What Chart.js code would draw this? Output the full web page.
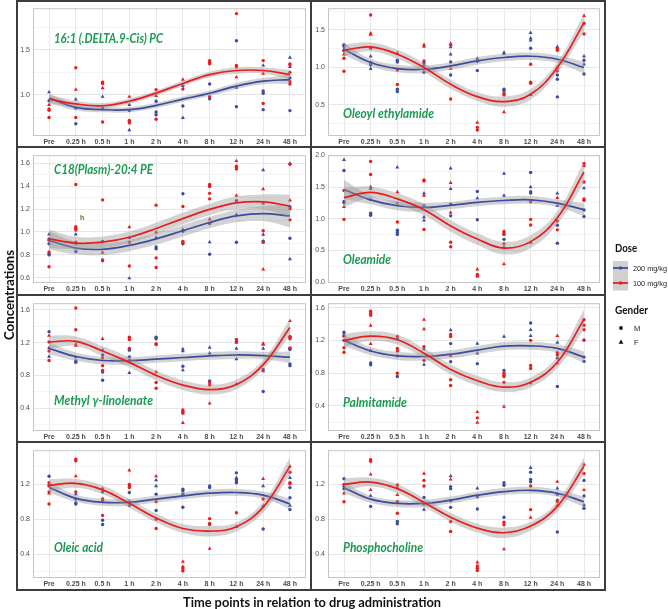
<!DOCTYPE html>
<html>
<head>
<meta charset="utf-8">
<script src="https://cdn.jsdelivr.net/npm/chart.js@4.4.1/dist/chart.umd.min.js"></script>
<style>
  body { margin: 0; background: #fff; }
  #fig { position: relative; width: 668px; height: 609px; overflow: hidden; }
  #fig canvas { position: absolute; }
  #over { position: absolute; left: 0; top: 0; pointer-events: none; }
</style>
</head>
<body>
<div id="fig"></div>
<script>
const timeLabels = ['Pre', '0.25 h', '0.5 h', '1 h', '2 h', '4 h', '8 h', '12 h', '24 h', '48 h'];
const doseLabels = ['200 mg/kg', '100 mg/kg'];
const genderLabels = ['M', 'F'];

// each list has one entry per time point: the values measured there
// 16:1 (.DELTA.9-Cis) PC
const dpc200M = [[0.935],[0.855,0.68],[0.855],[0.826],[0.93,0.81,0.78],[1.10,0.877],[1.12,0.957],[1.60,0.87],[1.043,1.018,0.837],[1.188,0.826]];
const dpc200F = [[1.03],[0.95],[0.98],[0.89,0.61],[],[0.746],[],[1.08],[1.326],[1.413,1.31]];
const dpc100M = [[0.845,0.83,0.75],[1.30,0.75],[1.14,1.127,0.70],[0.717,0.703,0.69],[1.058,0.73],[1.065],[1.38,1.36,1.345,0.98],[1.90,1.326,1.31],[1.38,0.905],[1.344,1.333,1.25,1.145,1.12]];
const dpc100F = [[0.89],[1.06],[1.076],[0.98],[0.99],[1.17],[],[1.196],[1.235],[]];
const dpcFit200 = [0.964,0.862,0.837,0.837,0.884,0.953,1.018,1.098,1.152,1.17];
const dpcFit100 = [0.953,0.90,0.88,0.93,1.02,1.127,1.225,1.27,1.27,1.225];
const dpcSe = [0.05,0.035,0.03,0.03,0.03,0.03,0.03,0.035,0.035,0.05];

// Oleoyl ethylamide
const oea200M = [[1.30,1.28,1.22],[1.063,1.03],[1.094,1.07,0.705,0.674],[1.058,0.933],[1.07,0.897],[1.08,0.955],[0.705,0.683],[1.254],[0.897,0.84,0.603],[1.094,0.91]];
const oea200F = [[1.24],[1.147,0.978],[],[1.03],[1.27,1.174],[1.116],[1.196,1.183],[1.46,1.388,1.36],[1.272],[1.147,1.04]];
const oea100M = [[1.12,0.946],[1.70,1.254],[0.964,0.77],[1.085],[0.576],[0.196,0.16],[0.647,0.63],[1.04,0.80,0.786],[1.25,1.228,0.951],[1.589,1.446]];
const oea100F = [[1.174],[1.455,1.437],[1.19],[1.30,1.277],[1.317,1.30,0.982],[0.259],[0.40],[0.63],[0.996],[1.687]];
const oeaFit200 = [1.24,1.063,0.982,0.973,1.018,1.085,1.13,1.147,1.107,0.996];
const oeaFit100 = [1.228,1.272,1.174,0.996,0.772,0.607,0.54,0.638,0.996,1.594];
const oeaSe200 = [0.08,0.05,0.05,0.05,0.05,0.05,0.05,0.05,0.05,0.08];
const oeaSe100 = [0.08,0.06,0.06,0.06,0.06,0.06,0.07,0.07,0.07,0.12];

// C18(Plasm)-20:4 PE
const pe200M = [[0.94,0.897,0.81,0.80],[0.911,0.83],[0.917,0.757],[],[0.869,0.854],[1.334,1.006,0.897],[1.397,1.074,0.806],[1.274,0.911],[0.92],[1.22,0.946]];
const pe200F = [[0.98],[0.98],[],[0.949,0.597],[0.951],[1.02],[0.911],[1.151],[1.54,1.249,0.977],[1.597,0.763]];
const pe100M = [[0.929,0.826,0.697],[1.414,1.046,1.03,1.017,0.90],[1.28,0.749],[0.911,0.703],[1.234,0.774,0.69],[1.223,0.917,0.906],[1.414,1.403,1.337,1.289],[1.574,1.563,1.549],[1.011,0.909],[1.591,1.203,1.106]];
const pe100F = [[],[],[0.82],[1.043],[0.997],[],[1.111],[1.62,1.317],[1.374,0.674],[1.277]];
const peFit200 = [0.926,0.86,0.849,0.883,0.94,1.011,1.083,1.14,1.16,1.14];
const peFit100 = [0.94,0.903,0.911,0.954,1.031,1.117,1.197,1.254,1.263,1.226];
const peSe = [0.08,0.055,0.05,0.05,0.05,0.05,0.05,0.055,0.065,0.1];

// Oleamide
const olm200M = [[1.763,1.273,1.253],[1.088,1.057],[0.82,0.784,0.753],[1.206],[1.232,1.046],[1.433,0.985],[0.753,0.675,0.541],[1.732,1.428,1.407],[0.897,0.613],[1.139,1.036]];
const olm200F = [[1.933],[1.50,1.299],[1.814,1.242],[1.402,1.026,0.974],[1.799,1.474],[1.325],[1.716,1.366],[1.50],[1.402,1.206],[1.485]];
const olm100M = [[1.448,0.99],[1.907,1.701],[0.948],[1.613,1.598,0.83],[0.629,0.557],[0.119,0.093],[0.799,0.768,0.603],[1.268,0.99,0.902],[0.964,0.825],[1.876,1.84,1.582,1.314,1.294]];
const olm100F = [[1.19],[1.474],[1.423],[1.366],[1.567,1.098],[0.201],[0.284],[0.624],[1.33],[]];
const olmFit200 = [1.464,1.299,1.206,1.18,1.211,1.258,1.289,1.299,1.247,1.144];
const olmFit100 = [1.335,1.418,1.314,1.144,0.887,0.68,0.536,0.639,1.015,1.737];
const olmSe200 = [0.15,0.07,0.07,0.07,0.06,0.06,0.06,0.06,0.06,0.1];
const olmSe100 = [0.15,0.09,0.09,0.09,0.09,0.09,0.1,0.1,0.1,0.17];

// Methyl γ-linolenate
const mgl200M = [[1.334],[0.976,0.96],[1.05,0.842,0.743],[1.109,1.027],[1.267,1.247],[0.913],[0.735],[],[0.873,0.606],[1.275,1.129,1.117,0.94,0.92]];
const mgl200F = [[1.137,1.031],[1.023],[1.109],[0.834],[],[1.121,1.098,0.865],[1.141,1.07],[1.2,1.129,1.0],[1.129],[]];
const mgl100M = [[1.208,1.098,0.983],[1.621,1.357],[1.015,0.92,0.861],[1.267,1.239,1.129,0.987],[1.188,1.176,0.716,0.645],[0.381,0.361,0.342],[0.716,0.684],[1.239,1.216],[],[1.267,1.247,1.137]];
const mgl100F = [[1.287],[1.18,1.165],[1.247],[],[0.842],[0.224],[0.46],[0.696],[1.188,1.176,0.853],[1.464]];
const mglFit200 = [1.129,1.031,0.983,0.98,1.0,1.019,1.039,1.05,1.043,1.023];
const mglFit100 = [1.208,1.216,1.098,0.96,0.802,0.684,0.629,0.692,0.932,1.385];
const mglSe200 = [0.07,0.05,0.045,0.045,0.045,0.045,0.045,0.045,0.045,0.07];
const mglSe100 = [0.08,0.06,0.06,0.06,0.06,0.06,0.06,0.06,0.06,0.1];

// Palmitamide
const plm200M = [[1.299,1.2],[0.923,0.9],[1.01,0.757],[],[1.16,0.939],[0.915],[0.832],[1.413],[0.983,0.635],[0.995,0.943]];
const plm200F = [[1.271],[1.074],[1.228],[1.093,0.904],[1.326],[1.16,1.042],[1.247],[1.33,1.255],[1.172],[1.208]];
const plm100M = [[1.251,1.109,1.054],[1.556,1.532,1.508],[1.247,1.101,1.07,0.797],[1.121,0.955],[1.271,1.247,0.718,0.647],[0.251],[0.797,0.773,0.757,0.686],[1.2,0.892,0.856],[1.05,1.022],[1.453,1.386,1.33,1.2]];
const plm100F = [[],[1.382,1.157],[],[1.453,1.338],[1.014],[0.323,0.192],[0.39],[0.678],[1.255,0.923],[]];
const plmFit200 = [1.2,1.07,1.01,1.002,1.03,1.081,1.129,1.133,1.101,0.995];
const plmFit100 = [1.2,1.251,1.208,1.042,0.844,0.706,0.627,0.686,0.931,1.457];
const plmSe200 = [0.07,0.05,0.05,0.05,0.05,0.05,0.05,0.05,0.05,0.07];
const plmSe100 = [0.08,0.06,0.06,0.06,0.06,0.06,0.06,0.06,0.07,0.12];

// Oleic acid
const ola200M = [[1.293],[1.032,0.987,0.976],[1.114,0.79,0.741],[1.107,0.957],[1.088,0.901],[1.144,1.125,1.088,0.939],[1.181,1.163,0.741],[1.331,1.256,1.237,1.219],[0.689],[1.163,1.047,0.913]];
const ola200F = [[1.2],[1.088],[],[1.002],[1.249,1.181],[],[],[1.275],[1.181,0.95],[1.275,0.957]];
const ola100M = [[1.219,1.181,1.114,0.976],[1.487,1.469,1.114],[1.032,1.013,0.845],[1.2,1.181,1.163],[1.002,0.8,0.696],[0.256,0.237,0.211],[0.808,0.752],[0.875],[1.032],[1.338,1.219,1.207]];
const ola100F = [[1.096],[1.293],[1.151],[1.36],[1.293],[0.316],[0.465],[0.715],[1.263],[1.405]];
const olaFit200 = [1.163,1.04,0.995,0.995,1.032,1.069,1.099,1.107,1.077,0.976];
const olaFit100 = [1.189,1.211,1.137,0.983,0.816,0.696,0.666,0.715,0.939,1.405];
const olaSe200 = [0.06,0.04,0.04,0.04,0.04,0.04,0.04,0.04,0.04,0.06];
const olaSe100 = [0.07,0.05,0.05,0.05,0.05,0.05,0.06,0.05,0.06,0.1];

// Phosphocholine
const phc200M = [[1.264,1.151],[0.948],[0.775,0.749],[1.05],[1.174,1.151,0.937],[1.057,0.918],[1.219,1.189,0.824],[1.339,1.256,1.23],[1.087,0.655],[1.245,1.068,0.926]];
const phc200F = [[1.181],[1.068],[1.162],[0.974,0.911],[1.294],[1.155],[],[1.388],[1.155],[0.963]];
const phc100M = [[1.2,1.001],[1.482,1.463],[1.192,1.001,0.869],[1.245,1.181],[1.012,0.775,0.662],[0.268,0.241,0.215],[0.768,0.738],[1.181,0.911],[1.02,1.001],[1.324]];
const phc100F = [[1.098],[1.313,1.136],[1.08],[1.324],[1.256],[0.309],[0.459],[0.82],[1.23,0.956],[1.426,1.136]];
const phcFit200 = [1.162,1.031,0.982,0.982,1.02,1.076,1.117,1.132,1.098,1.001];
const phcFit100 = [1.2,1.226,1.151,0.993,0.824,0.7,0.647,0.723,0.948,1.407];
const phcSe200 = [0.06,0.04,0.04,0.04,0.04,0.04,0.04,0.04,0.04,0.06];
const phcSe100 = [0.07,0.05,0.05,0.05,0.05,0.05,0.06,0.05,0.06,0.1];

const BLUE = '#3d4c9f';
const RED = '#ec1c1c';
const BAND = 'rgba(150,150,150,0.42)';
const rowTop = [0, 147, 295, 442];

const panels = [
  { title: '16:1 (.DELTA.9-Cis) PC', col: 0, row: 0, yMin: 0.545, yMax: 1.96, step: 0.5,
    pts: [dpc200M, dpc200F, dpc100M, dpc100F], fit: [dpcFit200, dpcSe, dpcFit100, dpcSe], tx: 54, ty: 38, tw: 109 },
  { title: 'Oleoyl ethylamide', col: 1, row: 0, yMin: 0.08, yMax: 1.79, step: 0.5,
    pts: [oea200M, oea200F, oea100M, oea100F], fit: [oeaFit200, oeaSe200, oeaFit100, oeaSe100], tx: 343, ty: 113, tw: 91 },
  { title: 'C18(Plasm)-20:4 PE', col: 0, row: 1, yMin: 0.555, yMax: 1.67, step: 0.2,
    pts: [pe200M, pe200F, pe100M, pe100F], fit: [peFit200, peSe, peFit100, peSe], tx: 54, ty: 169, tw: 99 },
  { title: 'Oleamide', col: 1, row: 1, yMin: -0.015, yMax: 2.005, step: 0.5,
    pts: [olm200M, olm200F, olm100M, olm100F], fit: [olmFit200, olmSe200, olmFit100, olmSe100], tx: 343, ty: 259, tw: 48 },
  { title: 'Methyl γ-linolenate', col: 0, row: 2, yMin: 0.125, yMax: 1.68, step: 0.4,
    pts: [mgl200M, mgl200F, mgl100M, mgl100F], fit: [mglFit200, mglSe200, mglFit100, mglSe100], tx: 54, ty: 400, tw: 99 },
  { title: 'Palmitamide', col: 1, row: 2, yMin: 0.09, yMax: 1.655, step: 0.4,
    pts: [plm200M, plm200F, plm100M, plm100F], fit: [plmFit200, plmSe200, plmFit100, plmSe100], tx: 343, ty: 402, tw: 64 },
  { title: 'Oleic acid', col: 0, row: 3, yMin: 0.13, yMax: 1.59, step: 0.4,
    pts: [ola200M, ola200F, ola100M, ola100F], fit: [olaFit200, olaSe200, olaFit100, olaSe100], tx: 54, ty: 547, tw: 49 },
  { title: 'Phosphocholine', col: 1, row: 3, yMin: 0.13, yMax: 1.59, step: 0.4,
    pts: [phc200M, phc200F, phc100M, phc100F], fit: [phcFit200, phcSe200, phcFit100, phcSe100], tx: 343, ty: 547, tw: 80 }
];

const fig = document.getElementById('fig');

function toPts(arr) {
  return arr.flatMap((vals, i) => vals.map(v => ({ x: i + 1, y: v })));
}
function curve(fit, se, sign) {
  return fit.map((v, i) => ({ x: i + 1, y: v + sign * se[i] }));
}
function isMajor(v, step) {
  const q = v / step;
  return Math.abs(q - Math.round(q)) < 1e-6;
}

const panelBox = {
  id: 'panelBox',
  afterDatasetsDraw(chart) {
    const a = chart.chartArea, ctx = chart.ctx;
    ctx.save();
    ctx.strokeStyle = '#c6c6c6';
    ctx.lineWidth = 1;
    ctx.strokeRect(a.left + 0.5, a.top + 0.5, a.right - a.left - 1, a.bottom - a.top - 1);
    ctx.restore();
  }
};

function makePanel(p) {
  const cv = document.createElement('canvas');
  cv.width = 292;
  cv.height = 146;
  cv.style.left = (p.col ? 312 : 18) + 'px';
  cv.style.top = (rowTop[p.row] + 1) + 'px';
  fig.appendChild(cv);

  const band = { type: 'line', pointRadius: 0, borderWidth: 0, tension: 0.4 };
  const fitLine = { type: 'line', pointRadius: 0, borderWidth: 1.7, tension: 0.4, fill: false };
  const dot = { type: 'scatter', borderWidth: 0 };

  const datasets = [
    { ...band, data: curve(p.fit[0], p.fit[1], 1), fill: '+1', backgroundColor: BAND, order: 6 },
    { ...band, data: curve(p.fit[0], p.fit[1], -1), fill: false, order: 6 },
    { ...fitLine, data: curve(p.fit[0], p.fit[1], 0), borderColor: BLUE, order: 5 },
    { ...band, data: curve(p.fit[2], p.fit[3], 1), fill: '+1', backgroundColor: BAND, order: 4 },
    { ...band, data: curve(p.fit[2], p.fit[3], -1), fill: false, order: 4 },
    { ...fitLine, data: curve(p.fit[2], p.fit[3], 0), borderColor: RED, order: 3 },
    { ...dot, data: toPts(p.pts[0]), pointStyle: 'circle', pointRadius: 1.7, backgroundColor: BLUE, order: 10 },
    { ...dot, data: toPts(p.pts[1]), pointStyle: 'triangle', pointRadius: 2.3, backgroundColor: BLUE, order: 10 },
    { ...dot, data: toPts(p.pts[2]), pointStyle: 'circle', pointRadius: 1.7, backgroundColor: RED, order: 9 },
    { ...dot, data: toPts(p.pts[3]), pointStyle: 'triangle', pointRadius: 2.3, backgroundColor: RED, order: 9 }
  ];

  new Chart(cv, {
    type: 'scatter',
    data: { datasets },
    options: {
      responsive: false,
      animation: false,
      events: [],
      layout: { padding: { top: 4, right: p.col ? 1 : 3, left: 0, bottom: 0 } },
      plugins: { legend: { display: false }, tooltip: { enabled: false } },
      scales: {
        x: {
          type: 'linear', min: 0.4, max: 10.6,
          afterBuildTicks: s => { s.ticks = timeLabels.map((_, i) => ({ value: i + 1 })); },
          afterFit: s => { s.height = 11; },
          ticks: {
            callback: v => timeLabels[Math.round(v) - 1],
            autoSkip: false, maxRotation: 0, padding: 2,
            color: '#4d4d4d', font: { family: 'Liberation Sans', size: 7, weight: 'bold' }
          },
          grid: { color: '#e8e8e8', drawTicks: false },
          border: { display: false }
        },
        y: {
          min: p.yMin, max: p.yMax,
          afterBuildTicks: s => {
            const h = p.step / 2, t = [];
            for (let v = Math.ceil(p.yMin / h - 1e-9) * h; v <= p.yMax + 1e-9; v += h) t.push({ value: +v.toFixed(4) });
            s.ticks = t;
          },
          afterFit: s => { s.width = p.col ? 16 : 15; },
          ticks: {
            callback: v => isMajor(v, p.step) ? (v + 0).toFixed(1) : '',
            autoSkip: false, padding: 3,
            color: '#4d4d4d', font: { family: 'Liberation Sans', size: 7 }
          },
          grid: {
            color: c => (c.tick && isMajor(c.tick.value, p.step)) ? '#e6e6e6' : '#f4f4f4',
            drawTicks: false
          },
          border: { display: false }
        }
      }
    },
    plugins: [panelBox]
  });
}

panels.forEach(makePanel);

// frames, titles and legend on top
let svg = '<svg id="over" width="668" height="609" xmlns="http://www.w3.org/2000/svg">';
const frame = 'stroke="#3c3c3c" stroke-width="2"';
svg += `<line x1="17" y1="0" x2="17" y2="591" ${frame}/>`;
svg += `<line x1="605" y1="0" x2="605" y2="591" ${frame}/>`;
svg += `<line x1="311" y1="0" x2="311" y2="591" ${frame}/>`;
svg += `<line x1="16" y1="1" x2="606" y2="1" ${frame}/>`;
svg += `<line x1="16" y1="590" x2="606" y2="590" ${frame}/>`;
rowTop.slice(1).forEach(y => { svg += `<line x1="16" y1="${y}" x2="606" y2="${y}" ${frame}/>`; });

panels.forEach(p => {
  svg += `<text x="${p.tx}" y="${p.ty}" dominant-baseline="central" textLength="${p.tw}" lengthAdjust="spacingAndGlyphs"
    fill="#1a9a52" font-family="Lato, sans-serif" font-weight="bold" font-style="italic" font-size="13">${p.title}</text>`;
});
svg += `<text x="80" y="217" dominant-baseline="central" fill="#7a5a1c" font-family="Liberation Sans" font-weight="bold" font-size="7">h</text>`;

// axis titles
svg += `<text x="312" y="601" text-anchor="middle" dominant-baseline="central" textLength="258" lengthAdjust="spacingAndGlyphs"
  font-family="Lato, sans-serif" font-weight="bold" font-size="14" fill="#111">Time points in relation to drug administration</text>`;
svg += `<text transform="translate(8,295) rotate(-90)" text-anchor="middle" dominant-baseline="central" textLength="90" lengthAdjust="spacingAndGlyphs"
  font-family="Lato, sans-serif" font-weight="bold" font-size="14" fill="#111">Concentrations</text>`;

// legend
const lgFont = 'font-family="Liberation Sans" font-size="7.5" fill="#222"';
svg += `<text x="615" y="247" dominant-baseline="central" textLength="22" lengthAdjust="spacingAndGlyphs" font-family="Lato, sans-serif" font-weight="bold" font-size="11" fill="#111">Dose</text>`;
svg += `<rect x="613" y="261" width="15" height="29.5" fill="#d0d0d0"/>`;
[BLUE, RED].forEach((c, i) => {
  const y = 268 + i * 15;
  svg += `<line x1="613" y1="${y}" x2="628" y2="${y}" stroke="${c}" stroke-width="1.8"/>`;
  svg += `<circle cx="620.5" cy="${y}" r="1.7" fill="${c}"/>`;
  svg += `<text x="633" y="${y}" dominant-baseline="central" textLength="34" lengthAdjust="spacingAndGlyphs" ${lgFont}>${doseLabels[i]}</text>`;
});
svg += `<text x="615" y="309" dominant-baseline="central" textLength="33" lengthAdjust="spacingAndGlyphs" font-family="Lato, sans-serif" font-weight="bold" font-size="11" fill="#111">Gender</text>`;
svg += `<circle cx="621" cy="328" r="1.9" fill="#111"/>`;
svg += `<text x="634" y="328" dominant-baseline="central" ${lgFont}>${genderLabels[0]}</text>`;
svg += `<polygon points="621,339.6 623.4,343.8 618.6,343.8" fill="#111"/>`;
svg += `<text x="634" y="342" dominant-baseline="central" ${lgFont}>${genderLabels[1]}</text>`;
svg += '</svg>';
fig.insertAdjacentHTML('beforeend', svg);
</script>
</body>
</html>
